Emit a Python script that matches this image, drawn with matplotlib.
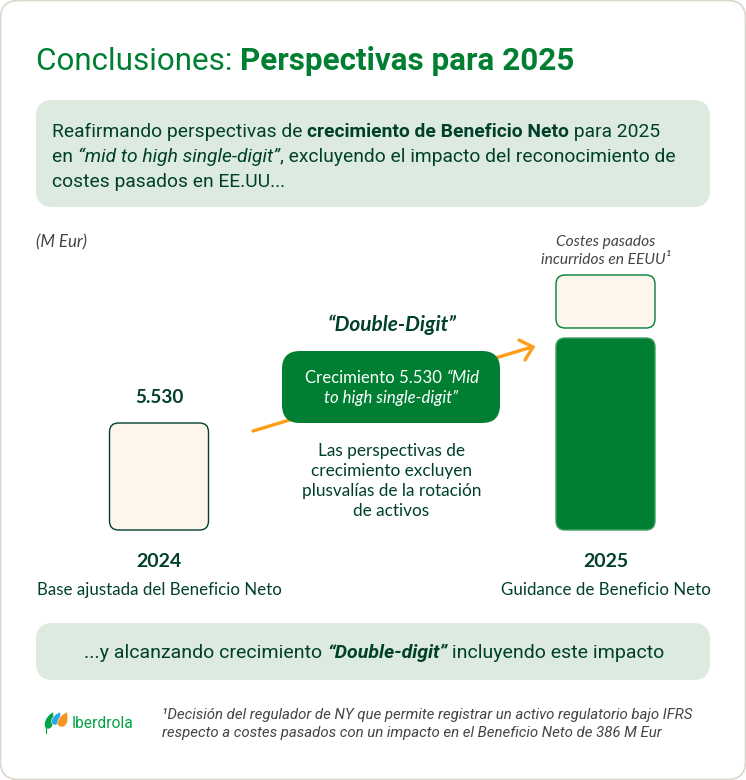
import matplotlib
matplotlib.use('Agg')
import matplotlib.pyplot as plt
from matplotlib.patches import FancyBboxPatch, PathPatch
from matplotlib.path import Path

# values
years = ['2024', '2025']
bar_labels = ['Base ajustada del Beneficio Neto', 'Guidance de Beneficio Neto']
value_2024 = '5.530'
# the bars are schematic, heights are what the slide shows
bar_heights = [107, 192]
cost_height = 53

GREEN = '#007f33'
DARK = '#00402a'
PALE = '#dceae0'
CREAM = '#fef5ec'
ORANGE = '#ff9c1a'
GREY = '#444444'
BODY = 'Roboto'
LABEL = 'Lato'

fig = plt.figure(figsize=(7.46, 7.80), dpi=100)
ax = fig.add_axes([0, 0, 1, 1])
ax.set_xlim(0, 746)
ax.set_ylim(780, 0)
ax.axis('off')


def box(x0, y0, x1, y1, r, fc, ec='none', lw=1.0, z=2):
    p = FancyBboxPatch((x0, y0), x1 - x0, y1 - y0, boxstyle='round,pad=0,rounding_size=%g' % r,
                       fc=fc, ec=ec, lw=lw, zorder=z)
    ax.add_patch(p)


def runs(x, y, parts, size, color, family=BODY):
    # consecutive pieces of text on one baseline, parts are (text, weight, style)
    r = fig.canvas.get_renderer()
    for s, w, st in parts:
        t = ax.text(x, y, s, fontsize=size, color=color, family=family, fontweight=w, fontstyle=st,
                    va='baseline', ha='left', zorder=5)
        x += t.get_window_extent(r).width
    return x


def label(x, y, s, size, color=DARK, w='normal', st='normal', family=LABEL, ha='center'):
    ax.text(x, y, s, fontsize=size, color=color, family=family, fontweight=w, fontstyle=st,
            ha=ha, va='baseline', zorder=5)


# card
box(0.5, 0.5, 745.5, 779.5, 18, 'white', '#ddd6ca', 1.2, 1)

# title
runs(36, 70, [('Conclusiones: ', 'normal', 'normal'), ('Perspectivas para 2025', 'bold', 'normal')], 22.6, GREEN)

# top box
box(36, 100, 710, 207, 17, PALE)
runs(52, 137, [('Reafirmando perspectivas de ', 'normal', 'normal'), ('crecimiento de Beneficio Neto', 'bold', 'normal'),
               (' para 2025', 'normal', 'normal')], 13.9, DARK)
runs(52, 162, [('en ', 'normal', 'normal'), ('“mid to high single-digit”', 'normal', 'italic'),
               (', excluyendo el impacto del reconocimiento de', 'normal', 'normal')], 13.9, DARK)
runs(52, 187, [('costes pasados en EE.UU...', 'normal', 'normal')], 13.9, DARK)

label(36, 247, '(M Eur)', 12.2, GREY, st='italic', ha='left')

# bars, all standing on the same base line
base = 530
box(109.5, base - bar_heights[0], 208.5, base, 9, CREAM, DARK, 1.0)
box(556, base - bar_heights[1], 655, base, 9, GREEN, '#3f9f63', 1.0)
cost_bottom = base - bar_heights[1] - 10
box(556, cost_bottom - cost_height, 655, cost_bottom, 9, CREAM, GREEN, 1.0)

label(159, 403, value_2024, 13.6, DARK, 'bold')
label(159, 567, years[0], 14, DARK, 'bold')
label(605.5, 567, years[1], 14, DARK, 'bold')
label(159, 595, bar_labels[0], 12.15, DARK, ha='center')
label(605.5, 595, bar_labels[1], 12.15, DARK, ha='center')

label(606, 246, 'Costes pasados', 11.2, GREY, st='italic')
label(606, 264, 'incurridos en EEUU¹', 11.2, GREY, st='italic')

# arrow goes behind the green box
ax.plot([253, 532], [431, 347], color=ORANGE, lw=2.4, zorder=3, solid_capstyle='round')
ax.plot([519, 533, 525], [340, 347, 360], color=ORANGE, lw=2.4, zorder=3, solid_capstyle='round', solid_joinstyle='miter')

label(392, 331, '“Double-Digit”', 15, DARK, 'bold', 'italic')

box(282, 351, 500, 423, 18, GREEN, z=4)
runs(305, 383, [('Crecimiento 5.530 ', 'normal', 'normal'), ('“Mid', 'normal', 'italic')], 12.1, 'white', LABEL)
label(391, 403, 'to high single-digit”', 12.1, 'white', st='italic')

for i, s in enumerate(['Las perspectivas de', 'crecimiento excluyen', 'plusvalías de la rotación', 'de activos']):
    label(391.5, 456 + i * 20, s, 12.4, DARK)

# bottom box
box(36, 623, 710, 680, 17, PALE)
runs(84, 658, [('...y alcanzando crecimiento ', 'normal', 'normal'), ('“Double-digit”', 'bold', 'italic'),
               (' incluyendo este impacto', 'normal', 'normal')], 14.02, DARK)

# footnote
runs(162, 719, [('¹Decisión del regulador de NY que permite registrar un activo regulatorio bajo IFRS', 'normal', 'italic')], 10.8, GREY)
runs(162, 737, [('respecto a costes pasados con un impacto en el Beneficio Neto de 386 M Eur', 'normal', 'italic')], 10.8, GREY)


# logo leaves, teardrops with the tip up and to the right
def leaf(x0, x1, ytop, ybot, color):
    w = x1 - x0
    h = ybot - ytop
    verts = [(x1, ytop), (x1 + w * 0.2, ytop + h * 0.55), (x1, ybot), (x0 + w * 0.5, ybot),
             (x0 - w * 0.1, ybot), (x0 + w * 0.05, ytop + h * 0.3), (x1, ytop)]
    codes = [Path.MOVETO] + [Path.CURVE4] * 6
    ax.add_patch(PathPatch(Path(verts, codes), fc=color, ec='white', lw=0.4, zorder=5))


leaf(43, 53, 712, 729, '#00a443')
ax.plot([46, 46], [726, 733], color='#00a443', lw=0.8, zorder=5)
leaf(50, 60, 712, 725, '#2aa5e6')
leaf(56, 67, 712, 727, '#f7941d')
label(72, 728, 'Iberdrola', 11.2, '#00a443', ha='left', family=BODY)

fig.savefig('out.png', dpi=100)
